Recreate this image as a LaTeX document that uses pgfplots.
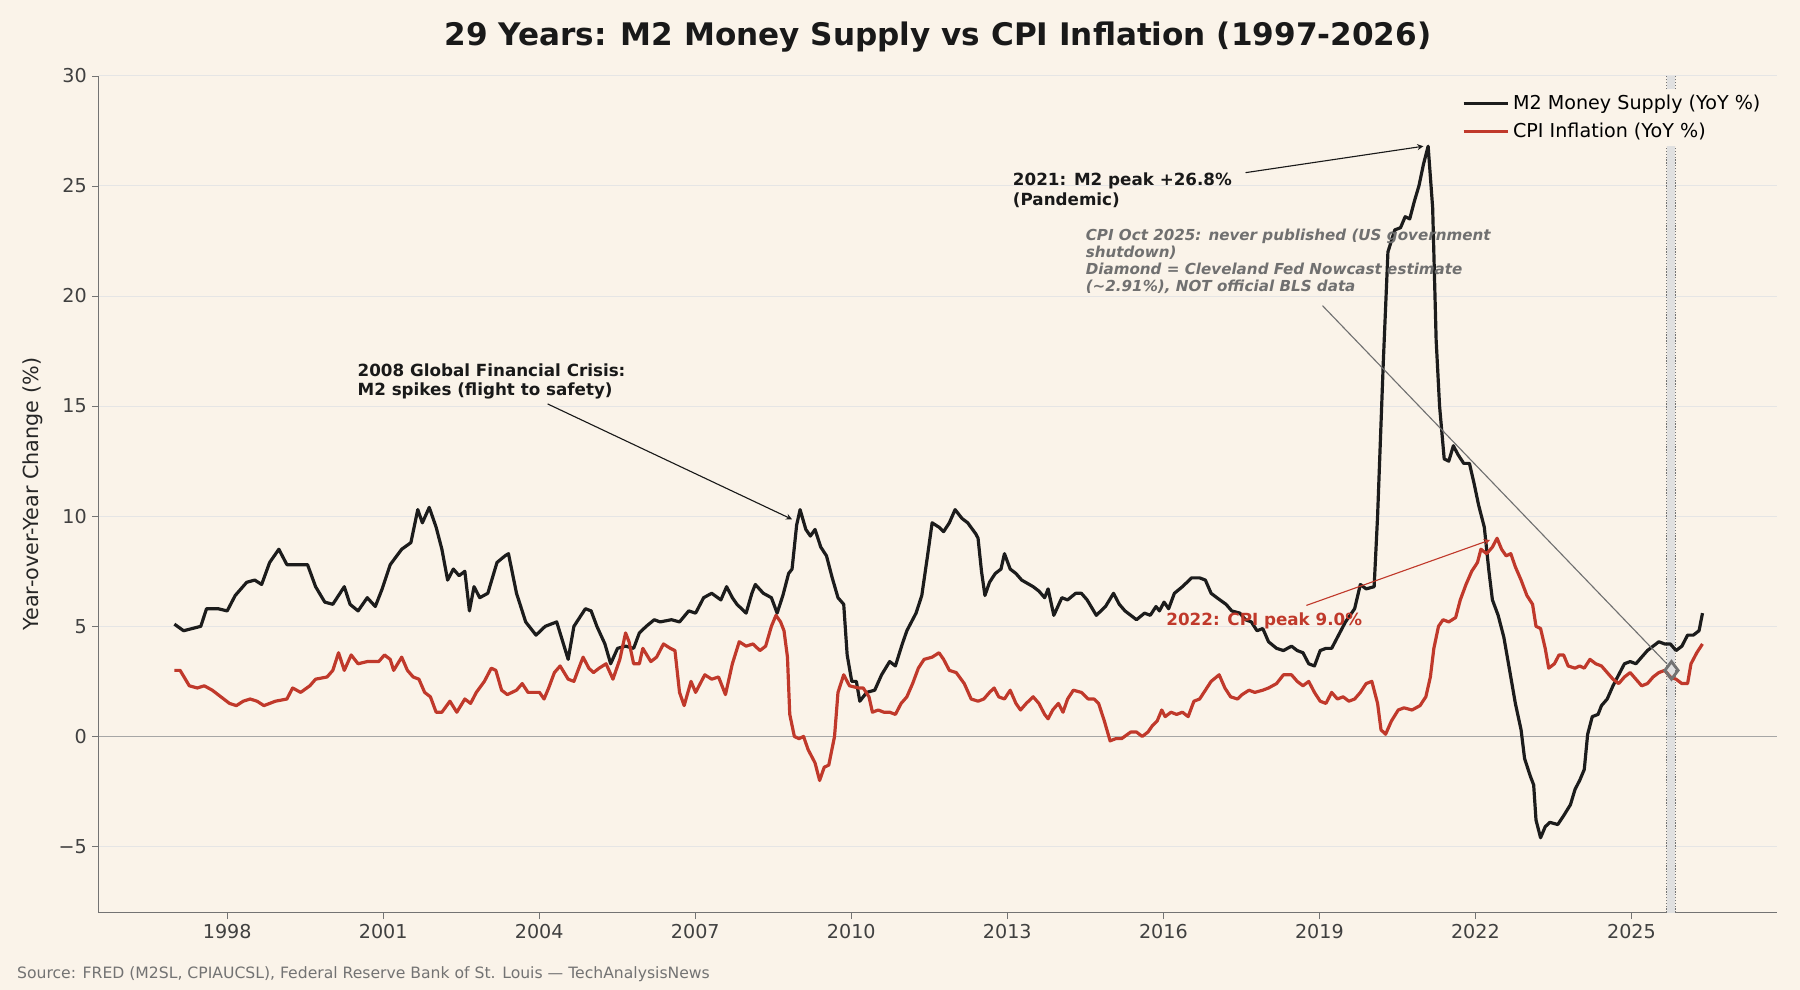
\documentclass[border=0pt]{standalone}
\usepackage{pgfplots}
\usepackage{pgfplotstable}
\pgfplotsset{compat=1.18}
\usepackage{fontspec}
\setmainfont{DejaVu Sans}
\definecolor{bg}{HTML}{FAF3E9}
\definecolor{mtwo}{HTML}{1C1C1C}
\definecolor{cpi}{HTML}{C0392B}
\definecolor{note}{HTML}{707070}
% x in screen pixels of the reference (converted to years below), y in percent
\pgfplotstableread{
px v
152 5.1
160 4.8
175 5.0
180 5.8
190 5.8
198 5.7
205 6.4
215 7.0
222 7.1
228 6.9
235 7.9
243 8.5
250 7.8
262 7.8
268 7.8
275 6.8
283 6.1
290 6.0
300 6.8
305 6.0
312 5.7
320 6.3
327 5.9
333 6.7
340 7.8
350 8.5
358 8.8
364 10.3
368 9.7
374 10.4
380 9.5
385 8.5
390 7.1
395 7.6
400 7.3
405 7.5
409 5.7
413 6.8
418 6.3
425 6.5
433 7.9
440 8.2
443 8.3
450 6.5
458 5.2
467 4.6
475 5.0
485 5.2
495 3.5
500 5.0
510 5.8
515 5.7
520 5.0
527 4.2
532 3.3
538 4.0
545 4.1
552 4.0
557 4.7
563 5.0
570 5.3
575 5.2
585 5.3
592 5.2
600 5.7
606 5.6
613 6.3
620 6.5
628 6.2
633 6.8
638 6.3
642 6.0
650 5.6
655 6.5
658 6.9
665 6.5
672 6.3
677 5.6
682 6.4
687 7.4
690 7.6
694 9.6
697 10.3
702 9.4
706 9.1
710 9.4
715 8.6
720 8.2
725 7.2
730 6.3
735 6.0
738 3.7
742 2.5
746 2.5
749 1.6
755 2.0
762 2.1
768 2.8
775 3.4
780 3.2
786 4.2
790 4.8
794 5.2
798 5.6
803 6.4
808 8.2
812 9.7
818 9.5
822 9.3
827 9.7
832 10.3
838 9.9
843 9.7
850 9.2
852 9.0
855 7.5
858 6.4
862 7.0
867 7.4
872 7.6
875 8.3
880 7.6
885 7.4
890 7.1
900 6.8
905 6.6
910 6.3
913 6.7
918 5.5
925 6.3
930 6.2
937 6.5
942 6.5
947 6.2
955 5.5
963 5.9
970 6.5
975 6.0
980 5.7
990 5.3
997 5.6
1002 5.5
1007 5.9
1010 5.7
1014 6.1
1018 5.8
1023 6.5
1030 6.8
1038 7.2
1045 7.2
1050 7.1
1055 6.5
1060 6.3
1068 6.0
1073 5.7
1080 5.6
1085 5.3
1090 5.2
1095 4.8
1100 4.9
1105 4.3
1112 4.0
1118 3.9
1125 4.1
1130 3.9
1135 3.8
1140 3.3
1145 3.2
1150 3.9
1155 4.0
1160 4.0
1165 4.5
1172 5.2
1180 5.8
1185 6.9
1190 6.7
1197 6.8
1200 10.0
1205 17.0
1209 22.0
1215 23.0
1220 23.1
1224 23.6
1228 23.5
1232 24.3
1236 25.0
1240 26.0
1244 26.8
1248 24.0
1251 18.0
1254 15.0
1258 12.6
1262 12.5
1266 13.2
1270 12.8
1275 12.4
1280 12.4
1284 11.5
1288 10.5
1293 9.5
1297 7.5
1300 6.2
1305 5.5
1310 4.5
1315 3.0
1320 1.5
1325 0.3
1328 -1.0
1333 -1.8
1336 -2.2
1338 -3.8
1342 -4.6
1346 -4.1
1350 -3.9
1357 -4.0
1362 -3.6
1368 -3.1
1372 -2.4
1376 -2.0
1380 -1.5
1383 0.1
1387 0.9
1392 1.0
1395 1.4
1400 1.7
1405 2.3
1410 2.8
1415 3.3
1420 3.4
1425 3.3
1430 3.6
1435 3.9
1440 4.1
1445 4.3
1450 4.2
1455 4.2
1460 3.9
1465 4.1
1470 4.6
1475 4.6
1480 4.8
1483 5.6
}\mtwo
\pgfplotstableread{
px v
152 3.0
157 3.0
165 2.3
172 2.2
178 2.3
185 2.1
190 1.9
195 1.7
200 1.5
206 1.4
212 1.6
218 1.7
224 1.6
230 1.4
240 1.6
250 1.7
255 2.2
262 2.0
270 2.3
275 2.6
285 2.7
290 3.0
295 3.8
300 3.0
306 3.7
312 3.3
320 3.4
330 3.4
335 3.7
340 3.5
343 3.0
350 3.6
355 3.0
360 2.7
365 2.6
370 2.0
375 1.8
380 1.1
385 1.1
392 1.6
398 1.1
405 1.7
410 1.5
415 2.0
422 2.5
428 3.1
432 3.0
437 2.1
442 1.9
450 2.1
455 2.4
460 2.0
465 2.0
470 2.0
474 1.7
478 2.2
483 2.9
488 3.2
495 2.6
500 2.5
505 3.2
508 3.6
513 3.1
517 2.9
522 3.1
528 3.3
534 2.6
540 3.5
545 4.7
548 4.3
552 3.3
557 3.3
560 4.0
567 3.4
572 3.6
578 4.2
584 4.0
588 3.9
592 2.0
596 1.4
602 2.5
606 2.0
614 2.8
620 2.6
626 2.7
632 1.9
638 3.3
644 4.3
650 4.1
656 4.2
662 3.9
667 4.1
672 5.0
676 5.5
680 5.2
683 4.8
686 3.6
688 1.0
692 0.0
696 -0.1
700 0.0
704 -0.6
710 -1.2
714 -2.0
718 -1.4
722 -1.3
727 0.0
730 2.0
735 2.8
740 2.3
748 2.2
752 2.2
757 1.8
760 1.1
765 1.2
770 1.1
775 1.1
780 1.0
785 1.5
790 1.8
795 2.4
800 3.1
805 3.5
812 3.6
818 3.8
822 3.5
827 3.0
833 2.9
840 2.4
846 1.7
852 1.6
857 1.7
862 2.0
866 2.2
870 1.8
875 1.7
880 2.1
885 1.5
889 1.2
894 1.5
900 1.8
905 1.5
910 1.0
913 0.8
917 1.2
922 1.5
926 1.1
930 1.7
935 2.1
942 2.0
948 1.7
953 1.7
957 1.5
962 0.7
967 -0.2
972 -0.1
977 -0.1
985 0.2
990 0.2
995 0.0
1000 0.2
1004 0.5
1008 0.7
1012 1.2
1015 0.9
1020 1.1
1025 1.0
1030 1.1
1035 0.9
1040 1.6
1045 1.7
1050 2.1
1055 2.5
1062 2.8
1067 2.2
1072 1.8
1078 1.7
1082 1.9
1088 2.1
1093 2.0
1100 2.1
1105 2.2
1112 2.4
1118 2.8
1125 2.8
1130 2.5
1135 2.3
1140 2.5
1145 2.0
1150 1.6
1155 1.5
1160 2.0
1165 1.7
1170 1.8
1175 1.6
1180 1.7
1185 2.0
1190 2.4
1195 2.5
1200 1.5
1203 0.3
1207 0.1
1212 0.7
1218 1.2
1223 1.3
1230 1.2
1237 1.4
1242 1.8
1246 2.7
1249 4.0
1253 5.0
1257 5.3
1262 5.2
1268 5.4
1272 6.2
1277 6.9
1282 7.5
1287 7.9
1290 8.5
1295 8.3
1300 8.6
1304 9.0
1308 8.5
1312 8.2
1316 8.3
1320 7.7
1325 7.1
1330 6.4
1335 6.0
1338 5.0
1342 4.9
1346 4.0
1349 3.1
1354 3.3
1358 3.7
1362 3.7
1366 3.2
1372 3.1
1376 3.2
1380 3.1
1385 3.5
1390 3.3
1395 3.2
1400 2.9
1405 2.6
1410 2.4
1415 2.7
1420 2.9
1425 2.6
1430 2.3
1435 2.4
1440 2.7
1445 2.9
1450 3.0
1455 2.7
1460 2.6
1465 2.4
1470 2.4
1473 3.3
1478 3.8
1483 4.2
}\cpidata
\begin{document}
\begin{tikzpicture}
\fill[bg] (0pt,0pt) rectangle (1128.96pt,620.64pt);
\begin{axis}[
  at={(61.92pt,48.24pt)}, anchor=south west,
  scale only axis, width=1052.64pt, height=524.88pt,
  xmin=1995.53, xmax=2027.8, ymin=-8, ymax=30,
  xtick={1998,2001,...,2025},
  ytick={-5,0,...,30},
  yticklabels={−5,0,5,10,15,20,25,30},
  /pgf/number format/set thousands separator={},
  /pgf/number format/assume math mode=true,
  axis lines*=left,
  axis line style={draw=black!55},
  tick style={draw=black!55},
  tick align=outside,
  major tick length=4pt,
  ymajorgrids, grid style={draw=black!10, line width=0.5pt},
  tick label style={font=\fontsize{12}{14}\selectfont, text=black!75},
  ylabel={Year-over-Year Change (\%)},
  ylabel style={font=\fontsize{13}{15}\selectfont, text=black!85, yshift=3pt},
  axis background/.style={fill=bg},
  legend style={at={(0.995,0.985)}, anchor=north east, draw=none, fill=bg,
    font=\fontsize{12}{15}\selectfont, row sep=3pt},
  legend image code/.code={\draw[#1] (0pt,0pt) -- (28pt,0pt);},
  legend cell align=left,
]
\fill[black!12] (axis cs:2025.68,-8) rectangle (axis cs:2025.84,30);
\draw[black!55, densely dotted, line width=0.8pt] (axis cs:2025.68,-8) -- (axis cs:2025.68,30);
\draw[black!55, densely dotted, line width=0.8pt] (axis cs:2025.84,-8) -- (axis cs:2025.84,30);
\draw[black!35, line width=0.8pt] (axis cs:1995.53,0) -- (axis cs:2027.8,0);
\addplot[mtwo, line width=2pt, line join=round] table[x expr={1998+(\thisrow{px}-198)/45.3}, y=v]{\mtwo};
\addlegendentry{M2 Money Supply (YoY \%)}
\addplot[cpi, line width=2pt, line join=round] table[x expr={1998+(\thisrow{px}-198)/45.3}, y=v]{\cpidata};
\addlegendentry{CPI Inflation (YoY \%)}
\addplot[only marks, mark=diamond, mark size=5.5pt, draw=black!55, line width=1.8pt, forget plot] coordinates {(2025.77,3.0)};
\node[anchor=north west, align=left, font=\bfseries\fontsize{10.5}{12.5}\selectfont, text=black!90] at (axis cs:2013.0,25.85) {2021: M2 peak +26.8\%\\(Pandemic)};
\draw[-stealth, black!90, line width=0.7pt] (axis cs:2017.58,25.6) -- (axis cs:2021.0,26.8);
\node[anchor=north west, align=left, font=\bfseries\fontsize{10.5}{12.5}\selectfont, text=black!90] at (axis cs:2000.4,17.2) {2008 Global Financial Crisis:\\M2 spikes (flight to safety)};
\draw[-stealth, black!90, line width=0.7pt] (axis cs:2004.16,15.1) -- (axis cs:2008.86,9.86);
\node[anchor=north west, align=left, font=\bfseries\itshape\fontsize{9.5}{10.7}\selectfont, text=note] at (axis cs:2014.4,23.3) {CPI Oct 2025: never published (US government\\shutdown)\\Diamond = Cleveland Fed Nowcast estimate\\(\textasciitilde2.91\%), NOT official BLS data};
\draw[note, line width=0.7pt] (axis cs:2019.06,19.56) -- (axis cs:2025.68,3.3);
\node[anchor=west, font=\bfseries\fontsize{10.5}{12.5}\selectfont, text=cpi] at (axis cs:2015.95,5.27) {2022: CPI peak 9.0\%};
\draw[-stealth, cpi, line width=0.7pt] (axis cs:2018.75,5.95) -- (axis cs:2022.28,8.92);
\end{axis}
\node[font=\bfseries\fontsize{19.5}{22}\selectfont, text=black!90] at (588.2pt,597.6pt) {29 Years: M2 Money Supply vs CPI Inflation (1997-2026)};
\node[anchor=west, font=\fontsize{9.8}{11}\selectfont, text=black!55] at (7.2pt,9.4pt) {Source: FRED (M2SL, CPIAUCSL), Federal Reserve Bank of St. Louis — TechAnalysisNews};
\end{tikzpicture}
\end{document}
